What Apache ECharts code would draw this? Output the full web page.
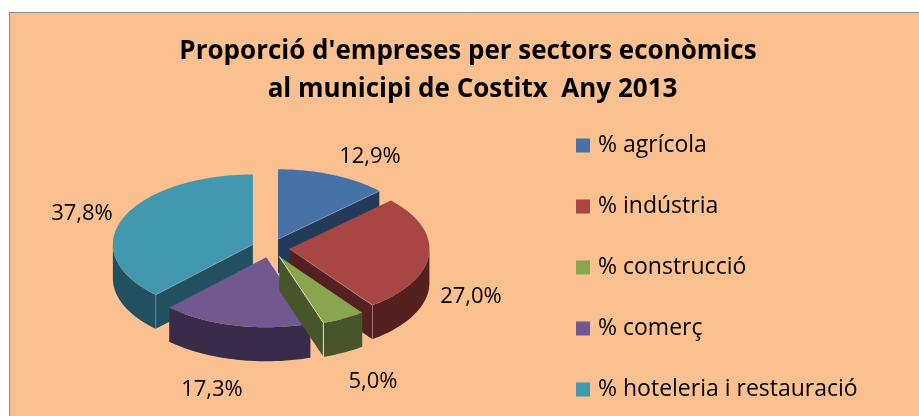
<!DOCTYPE html>
<html><head><meta charset="utf-8">
<style>html,body{margin:0;padding:0;background:#fff}#c{width:919px;height:416px}</style>
<script src="https://cdn.jsdelivr.net/npm/echarts@6/dist/echarts.min.js"></script>
</head><body><div id="c"></div>
<script>
const categories = ['% agrícola','% indústria','% construcció','% comerç','% hoteleria i restauració'];
const values = [12.9,27.0,5.0,17.3,37.8];
const topColors = ['#4772A7','#A84644','#89A54E','#71588F','#4198AF'];
const sideColors = ['#243A5A','#542120','#47562A','#392C4A','#215060'];
const drawRank = [1,3,5,4,2];
const labelAnchors = [[370,157],[471,297],[373,382],[212,390],[82,214]];
const titleLines = ["Proporció d'empreses per sectors econòmics","al municipi de Costitx  Any 2013"];

const cx=270.5, cy=248, rx=140, ry=70, depth=34, explode=19, flat=0.5, FONT='"Open Sans"';
const total = values.reduce((a,b)=>a+b,0);
let acc=0;
const spans = values.map(v=>{const s=acc/total*2*Math.PI; acc+=v; return [s,acc/total*2*Math.PI];});

function rim(ox,oy,t){return [ox+rx*Math.sin(t), oy-ry*Math.cos(t)];}
function arcPts(ox,oy,a,b){const n=Math.max(2,Math.ceil((b-a)/0.02));const p=[];for(let i=0;i<=n;i++)p.push(rim(ox,oy,a+(b-a)*i/n));return p;}
function poly(points,fill,extra){return Object.assign({type:'polygon',shape:{points},style:{fill}},extra||{});}

function renderSlice(idx){
  const [a,b]=spans[idx], m=(a+b)/2;
  const ox=cx+explode*Math.sin(m), oy=cy-explode*flat*Math.cos(m);
  const side=sideColors[idx], kids=[];
  const cut=(t)=>{const r=rim(ox,oy,t);return poly([[ox,oy],r,[r[0],r[1]+depth],[ox,oy+depth]],side);};
  if(Math.sin(b)>1e-6) kids.push(cut(b));
  if(Math.sin(a)<-1e-6) kids.push(cut(a));
  const wa=Math.max(a,Math.PI/2), wb=Math.min(b,Math.PI*1.5);
  if(wb>wa){const t=arcPts(ox,oy,wa,wb);kids.push(poly(t.concat(t.slice().reverse().map(p=>[p[0],p[1]+depth])),side));}
  kids.push(poly([[ox,oy]].concat(arcPts(ox,oy,a,b)),topColors[idx]));
  const edge=(t,col,op)=>{const r=rim(ox,oy,t);kids.push({type:'polyline',shape:{points:[[ox,oy],r,[r[0],r[1]+depth]]},style:{stroke:col,lineWidth:1,fill:null,opacity:op}});};
  if(Math.sin(b)>1e-6) edge(b,idx===2?'#F6E3B4':'#B9B9B9',idx===2?1:0.45);
  if(Math.sin(a)<-1e-6) edge(a,'#B9B9B9',0.45);
  const [lx,ly]=labelAnchors[idx];
  kids.push({type:'text',z2:100,style:{x:lx,y:ly,text:values[idx].toFixed(1).replace('.',',')+'%',fill:'#000',font:'22px '+FONT,textAlign:'center',textVerticalAlign:'middle'}});
  return {type:'group',children:kids};
}

const chart=echarts.init(document.getElementById('c'),null,{renderer:'canvas'});
chart.setOption({
  animation:false,
  backgroundColor:'#fff',
  graphic:[{type:'rect',z:-10,shape:{x:9.5,y:12.5,width:910,height:404},style:{fill:'#FBC08F',stroke:'#8C8C8C',lineWidth:1}}],
  title:[
    {text:titleLines[0],left:463,top:34,textAlign:'center',textStyle:{fontFamily:FONT,fontWeight:'bold',fontSize:26,color:'#000'}},
    {text:titleLines[1],left:467.5,top:72,textAlign:'center',textStyle:{fontFamily:FONT,fontWeight:'bold',fontSize:26,color:'#000'}}
  ],
  legend:{orient:'vertical',left:571,top:128,itemWidth:14,itemHeight:14,itemGap:36,icon:'rect',data:categories,
    textStyle:{fontFamily:FONT,fontSize:23,color:'#000',lineHeight:23,padding:[2,0,0,3]},itemStyle:{borderWidth:0}},
  series:categories.map((name,i)=>({
    type:'custom',name,coordinateSystem:'none',z:drawRank[i]+1,silent:true,
    itemStyle:{color:topColors[i]},
    data:[values[i]],
    renderItem:()=>renderSlice(i)
  }))
});
</script></body></html>
